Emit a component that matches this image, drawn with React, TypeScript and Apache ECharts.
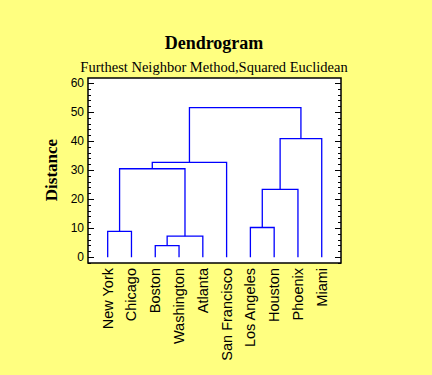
import React, { useEffect, useRef } from 'react';
import * as echarts from 'echarts';

const cities = ['New York', 'Chicago', 'Boston', 'Washington', 'Atlanta', 'San Francisco', 'Los Angeles', 'Houston', 'Phoenix', 'Miami'];
// merges: ids 0-9 are leaves, merge k creates cluster id 10+k
const mergeA = [0, 2, 11, 10, 13, 6, 15, 16, 14];
const mergeB = [1, 3, 4, 12, 5, 7, 8, 9, 17];
const mergeHeights = [8.9, 4.0, 7.25, 30.5, 32.7, 10.25, 23.4, 40.9, 51.6];
const majorTicks = [0, 10, 20, 30, 40, 50, 60];
const minorTicks = [-2, 2, 4, 6, 8, 12, 14, 16, 18, 22, 24, 26, 28, 32, 34, 36, 38, 42, 44, 46, 48, 52, 54, 56, 58];
const leafPositions = [1, 2, 3, 4, 5, 6, 7, 8, 9, 10];

function buildLinks() {
  const pos: { x: number; y: number }[] = leafPositions.map((x) => ({ x, y: 0 }));
  const links: number[][] = [];
  mergeA.forEach((a, k) => {
    const b = mergeB[k];
    const h = mergeHeights[k];
    links.push([pos[a].x, pos[b].x, pos[a].y, pos[b].y, h]);
    pos.push({ x: (pos[a].x + pos[b].x) / 2, y: h });
  });
  return links;
}

export default function App() {
  const ref = useRef<HTMLDivElement>(null);
  useEffect(() => {
    if (!ref.current) return;
    const chart = echarts.init(ref.current, null, { renderer: 'svg' });
    const links = buildLinks();
    const yCommon = {
      type: 'value',
      min: -2,
      max: 61.8,
      splitLine: { show: false },
      axisLine: { show: false },
    };
    chart.setOption({
      animation: false,
      backgroundColor: '#FFFF80',
      grid: {
        left: 88,
        top: 78,
        width: 253,
        height: 185,
        show: true,
        backgroundColor: '#ffffff',
        borderColor: '#000000',
        borderWidth: 1.5,
      },
      graphic: [
        {
          type: 'text',
          x: 214,
          y: 43,
          style: {
            text: 'Dendrogram',
            font: 'bold 18px "Liberation Serif"',
            fill: '#000',
            align: 'center',
            verticalAlign: 'middle',
          },
        },
        {
          type: 'text',
          x: 214,
          y: 67,
          style: {
            text: 'Furthest Neighbor Method,Squared Euclidean',
            font: '14.5px "Liberation Serif"',
            fill: '#000',
            align: 'center',
            verticalAlign: 'middle',
          },
        },
        {
          type: 'text',
          x: 51,
          y: 170,
          rotation: Math.PI / 2,
          style: {
            text: 'Distance',
            font: 'bold 17px "Liberation Serif"',
            fill: '#000',
            align: 'center',
            verticalAlign: 'middle',
          },
        },
      ],
      xAxis: {
        type: 'value',
        min: 0.172,
        max: 10.81,
        axisLine: { show: false },
        splitLine: { show: false },
        axisTick: { show: false },
        axisLabel: {
          customValues: leafPositions,
          formatter: (v: number) => cities[Math.round(v) - 1] || '',
          rotate: 90,
          margin: 5,
          fontSize: 14.5,
          fontFamily: 'Liberation Sans',
          color: '#000',
        },
      },
      yAxis: [
        {
          ...yCommon,
          position: 'left',
          axisTick: { show: true, inside: true, length: 6, customValues: majorTicks, lineStyle: { color: '#000' } },
          axisLabel: { customValues: majorTicks, fontSize: 12, fontFamily: 'Liberation Sans', color: '#000', margin: 4 },
        },
        {
          ...yCommon,
          position: 'left',
          axisTick: { show: true, inside: true, length: 3, customValues: minorTicks, lineStyle: { color: '#000' } },
          axisLabel: { show: false },
        },
        {
          ...yCommon,
          position: 'right',
          axisTick: { show: true, inside: true, length: 6, customValues: majorTicks, lineStyle: { color: '#000' } },
          axisLabel: { show: false },
        },
        {
          ...yCommon,
          position: 'right',
          axisTick: { show: true, inside: true, length: 3, customValues: minorTicks, lineStyle: { color: '#000' } },
          axisLabel: { show: false },
        },
      ],
      series: [
        {
          type: 'custom',
          xAxisIndex: 0,
          yAxisIndex: 0,
          data: links,
          encode: { x: [0, 1], y: [2, 3, 4] },
          renderItem: (_params: any, api: any) => {
            const p1 = api.coord([api.value(0), api.value(2)]);
            const p2 = api.coord([api.value(0), api.value(4)]);
            const p3 = api.coord([api.value(1), api.value(4)]);
            const p4 = api.coord([api.value(1), api.value(3)]);
            return {
              type: 'polyline',
              shape: { points: [p1, p2, p3, p4] },
              style: { stroke: '#0000FF', lineWidth: 1.3, fill: 'none' },
            };
          },
        },
      ],
    });
    return () => chart.dispose();
  }, []);
  return <div ref={ref} style={{ position: 'fixed', left: 0, top: 0, width: 432, height: 375 }} />;
}
